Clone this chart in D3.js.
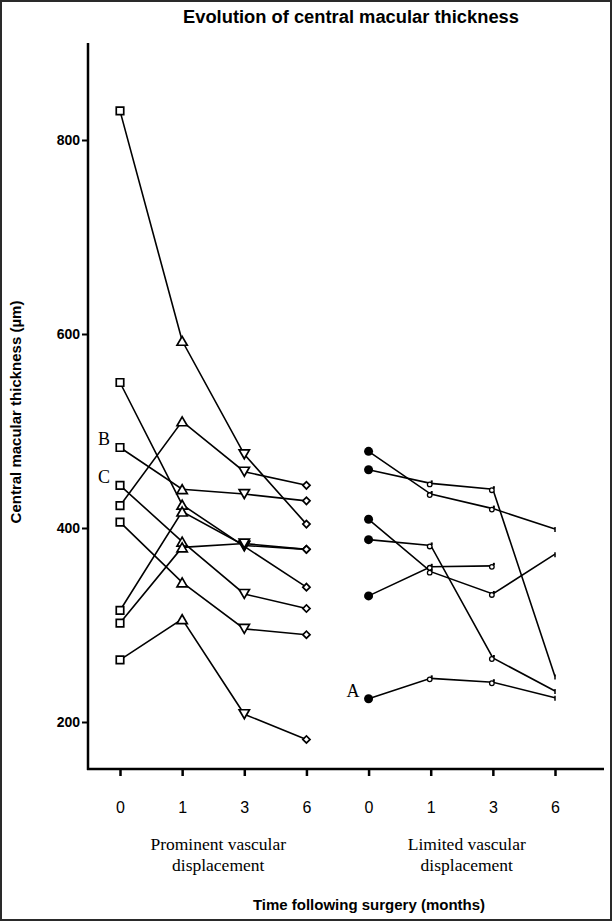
<!DOCTYPE html>
<html>
<head>
<meta charset="utf-8">
<script src="https://cdn.jsdelivr.net/npm/d3@7"></script>
<style>
  html, body { margin: 0; padding: 0; background: #fff; }
  svg { display: block; }
</style>
</head>
<body>
<svg id="chart" width="612" height="921"></svg>
<script>
// ---------------- data ----------------
const title = "Evolution of central macular thickness";
const yTitle = "Central macular thickness (µm)";
const xTitle = "Time following surgery (months)";
const months = ["0", "1", "3", "6"];
const groupNames = [["Prominent vascular", "displacement"], ["Limited vascular", "displacement"]];
const yTicks = [200, 400, 600, 800];

// Prominent vascular displacement: values at months 0, 1, 3, 6
const prominent = [
  [830, 593, 476, 404],
  [550, 424, 381, 339],
  [483, 440, 435, 428],
  [444, 386, 332, 317],
  [423, 510, 458, 444],
  [406, 344, 296, 290],
  [315, 417, 382, 378],
  [302, 380, 384, 378],
  [264, 306, 208, 182]
];
// Limited vascular displacement
const limited = [
  [479, 435, 420, 399],
  [460, 446, 440, 247],
  [409, 355, 332, 373],
  [388, 382, 266, 232],
  [330, 360, 361, null],
  [224, 245, 241, 225]
];
// case labels: [group, patient index, text]
const caseLabels = [[1, 5, "A"], [0, 2, "B"], [0, 3, "C"]];

// ---------------- chart ----------------
const svg = d3.select("#chart");
const W = 612, H = 921;
const SANS = "Liberation Sans, Arial, Helvetica, sans-serif";
const SERIF = "Liberation Serif, Times New Roman, serif";

svg.append("rect").attr("x", 1).attr("y", 1).attr("width", W - 2).attr("height", H - 2)
  .attr("fill", "#fff").attr("stroke", "#2a2a2a").attr("stroke-width", 2);

const x = d3.scaleLinear().domain([0, 7]).range([120, 555]);
const y = d3.scaleLinear().domain([200, 800]).range([722, 140]);
const axisLeftX = 88, axisTop = 43, axisBottomY = 769, axisRightX = 604;

// title
svg.append("text").attr("x", 351).attr("y", 23).attr("text-anchor", "middle")
  .attr("font-family", SANS).attr("font-weight", "bold")
  .attr("font-size", 18).attr("textLength", 336).attr("lengthAdjust", "spacingAndGlyphs").text(title);

// y axis
const yAxis = d3.axisLeft(y).tickValues(yTicks).tickSize(6).tickPadding(2).tickFormat(d3.format("d"));
const gy = svg.append("g").attr("transform", `translate(${axisLeftX},0)`).call(yAxis);
gy.select(".domain").remove();
gy.selectAll(".tick line").attr("stroke", "#000").attr("stroke-width", 2);
gy.selectAll(".tick text").attr("font-family", SANS)
  .attr("font-weight", "bold").attr("font-size", 14).attr("fill", "#000");
svg.append("line").attr("x1", axisLeftX).attr("x2", axisLeftX).attr("y1", axisTop).attr("y2", axisBottomY + 1)
  .attr("stroke", "#000").attr("stroke-width", 2.5);

svg.append("text").attr("transform", `translate(21,${412}) rotate(-90)`).attr("text-anchor", "middle")
  .attr("font-family", SANS).attr("font-weight", "bold")
  .attr("font-size", 15).text(yTitle);

// x axis
const xAxis = d3.axisBottom(x).tickValues(d3.range(8)).tickSize(7).tickPadding(26)
  .tickFormat(i => months[i % 4]);
const gx = svg.append("g").attr("transform", `translate(0,${axisBottomY})`).call(xAxis);
gx.select(".domain").remove();
gx.selectAll(".tick line").attr("stroke", "#000").attr("stroke-width", 2.5);
gx.selectAll(".tick text").attr("font-family", SANS)
  .attr("font-size", 16).attr("fill", "#000");
svg.append("line").attr("x1", axisLeftX - 1).attr("x2", axisRightX).attr("y1", axisBottomY).attr("y2", axisBottomY)
  .attr("stroke", "#000").attr("stroke-width", 2.5);

// group names
groupNames.forEach((lines, g) => {
  const cx = (x(g * 4) + x(g * 4 + 3)) / 2 + 5;
  lines.forEach((t, k) => {
    svg.append("text").attr("x", cx).attr("y", 850 + k * 21).attr("text-anchor", "middle")
      .attr("font-family", SERIF).attr("font-size", 17.5).text(t);
  });
});
svg.append("text").attr("x", 369).attr("y", 910).attr("text-anchor", "middle")
  .attr("font-family", SANS).attr("font-weight", "bold")
  .attr("font-size", 15).text(xTitle);

// lines
const line = d3.line().defined(d => d[1] != null).x(d => x(d[0])).y(d => y(d[1]));
const groups = [prominent, limited];
groups.forEach((series, g) => {
  series.forEach(vals => {
    const pts = vals.map((v, i) => [g * 4 + i, v]);
    svg.append("path").attr("d", line(pts)).attr("fill", "none")
      .attr("stroke", "#000").attr("stroke-width", 1.6);
  });
});

// markers - prominent group (square, triangle, inverted triangle, diamond)
const symTypes = [d3.symbolSquare, d3.symbolTriangle, d3.symbolTriangle, d3.symbolSquare];
const symSizes = [56, 46, 46, 26];
const symRot = [0, 0, 180, 45];
prominent.forEach(vals => {
  vals.forEach((v, i) => {
    if (v == null) return;
    const dy = i === 1 ? 1.5 : (i === 2 ? -1.5 : 0);
    svg.append("path")
      .attr("d", d3.symbol().type(symTypes[i]).size(symSizes[i])())
      .attr("transform", `translate(${x(i)},${y(v) + dy}) rotate(${symRot[i]})`)
      .attr("fill", "#fff").attr("stroke", "#000").attr("stroke-width", 1.7);
  });
});

// markers - limited group
limited.forEach(vals => {
  vals.forEach((v, i) => {
    if (v == null) return;
    const cx = x(4 + i), cy = y(v);
    if (i === 0) {
      svg.append("circle").attr("cx", cx).attr("cy", cy).attr("r", 4.5).attr("fill", "#000");
    } else if (i < 3) {
      svg.append("circle").attr("cx", cx - 1).attr("cy", cy + 1).attr("r", 2.3)
        .attr("fill", "#fff").attr("stroke", "#000").attr("stroke-width", 1.3);
      svg.append("line").attr("x1", cx + 1).attr("x2", cx + 1).attr("y1", cy - 3).attr("y2", cy - 0.5)
        .attr("stroke", "#000").attr("stroke-width", 2);
    } else {
      svg.append("line").attr("x1", cx).attr("x2", cx).attr("y1", cy - 2).attr("y2", cy + 3)
        .attr("stroke", "#000").attr("stroke-width", 1.5);
    }
  });
});

// case labels
caseLabels.forEach(([g, p, t]) => {
  const v = groups[g][p][0];
  svg.append("text").attr("x", x(g * 4) - 22).attr("y", y(v) - 2).attr("text-anchor", "start")
    .attr("font-family", SERIF).attr("font-size", 18).text(t);
});
</script>
</body>
</html>
